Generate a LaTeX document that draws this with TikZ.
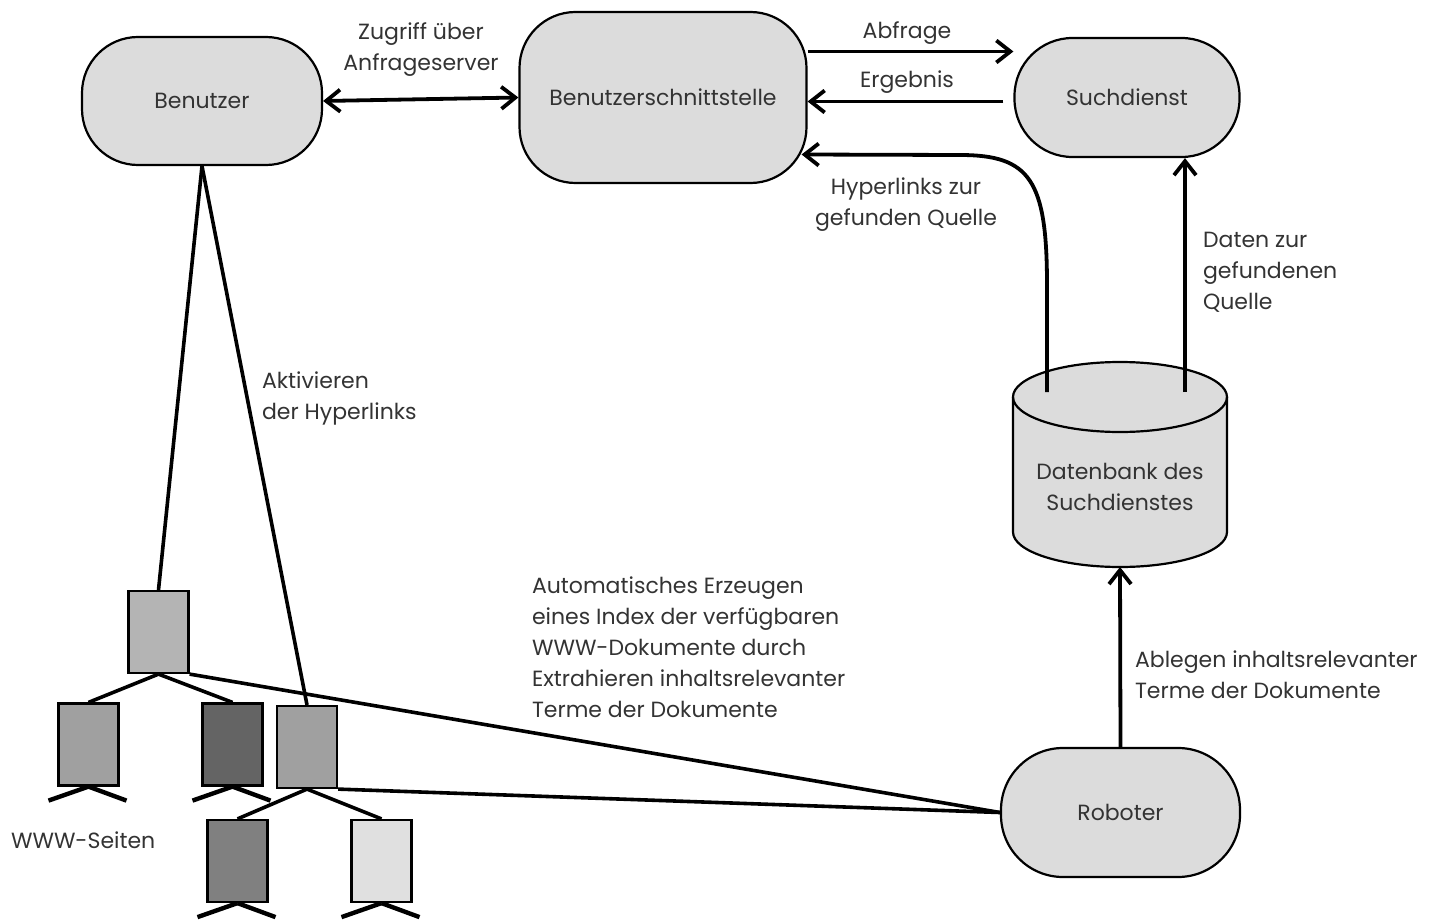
\documentclass[tikz,border=0pt]{standalone}
\usepackage{fontspec}
\setmainfont{Poppins}
\usetikzlibrary{arrows.meta,positioning,calc}

\definecolor{boxgray}{HTML}{DCDCDC}
\definecolor{pageA}{HTML}{B4B4B4}
\definecolor{pageB}{HTML}{A0A0A0}
\definecolor{pageC}{HTML}{646464}
\definecolor{pageD}{HTML}{808080}
\definecolor{pageE}{HTML}{E0E0E0}

\begin{document}
\begin{tikzpicture}[%
    x=0.5pt, y=-0.5pt,
    >={Straight Barb[length=7pt,width=11pt]},
    every node/.style={font=\fontsize{11}{15.5}\selectfont, text=black!80},
    blob/.style={draw, fill=boxgray, line width=1.1pt, rounded corners=28pt, align=center},
    page/.style={draw, line width=1.1pt, minimum width=30pt, minimum height=41pt, inner sep=0pt},
    flow/.style={->, line width=1.9pt},
    link/.style={line width=1.8pt},
    note/.style={align=left, anchor=west},
  ]
  \useasboundingbox (0,0) rectangle (1436,920);

  % --- main boxes ---
  \node[blob, minimum width=120pt, minimum height=64pt] (ben) at (202,101) {Benutzer};
  \node[blob, minimum width=143.5pt, minimum height=85.5pt] (bs) at (663,97.5) {Benutzerschnittstelle};
  \node[blob, minimum width=112.5pt, minimum height=59.5pt, rounded corners=29pt] (sd) at (1127,97.5) {Suchdienst};
  \node[blob, minimum width=119.5pt, minimum height=64.5pt, rounded corners=31pt] (rob) at (1120.5,812.5) {Roboter};

  % --- database cylinder ---
  \fill[boxgray] (1013,397) -- (1013,532) arc[start angle=180, end angle=0, x radius=107, y radius=35]
    -- (1227,397) -- cycle;
  \filldraw[fill=boxgray, draw=black, line width=1.1pt] (1120,397) ellipse[x radius=107, y radius=35];
  \draw[line width=1.1pt] (1013,397) -- (1013,532) arc[start angle=180, end angle=0, x radius=107, y radius=35]
    -- (1227,397);
  \node[align=center] (db) at (1120,487) {Datenbank des\\Suchdienstes};
  \coordinate (dbA) at (1047,392);
  \coordinate (dbB) at (1185,392);
  \coordinate (dbS) at (1120,567);

  % --- WWW pages ---
  \node[page, fill=pageA] (root) at (158.5,632) {};
  \node[page, fill=pageB] (c1) at (88.5,744.5) {};
  \node[page, fill=pageC] (c2) at (232.5,744.5) {};
  \node[page, fill=pageB] (c3) at (307,747) {};
  \node[page, fill=pageD] (gc1) at (237.5,861) {};
  \node[page, fill=pageE] (gc2) at (381.5,861) {};

  \draw[link] (root.south) -- (c1.north);
  \draw[link] (root.south) -- (c2.north);
  \draw[link] (c3.south) -- (gc1.north);
  \draw[link] (c3.south) -- (gc2.north);
  \foreach \p in {c1,c2,gc1,gc2} {
    \draw[link, line width=2.2pt] (\p.south) -- ++(-40,14);
    \draw[link, line width=2.2pt] (\p.south) -- ++(38,14);
  }

  % --- connectors ---
  \draw[flow, <->] (ben.east) -- (bs.west);
  \draw[flow] ([yshift=23pt]bs.east) -- ([yshift=23pt]sd.west);
  \draw[flow] ([xshift=-5pt,yshift=-2pt]sd.west) -- ([yshift=-2pt]bs.east);
  \draw[flow] (dbA) -- (1047,285) .. controls (1047,180) and (1030,155) .. (960,155)
    -- ([yshift=-28.5pt,xshift=-3pt]bs.east);
  \draw[flow] (dbB) -- (dbB |- sd.south);
  \draw[flow] (rob.north) -- (dbS);

  \draw[link] (ben.south) -- (root.north);
  \draw[link] (ben.south) -- (c3.north);
  \draw[link] (root.south east) -- (rob.west);
  \draw[link] (c3.south east) -- (rob.west);

  % --- labels ---
  \node[align=center] (lzug) at (421,50) {Zugriff über\\Anfrageserver};
  \node (labf) at (907,33) {Abfrage};
  \node (lerg) at (907,82) {Ergebnis};
  \node[align=center] (lhyp) at (906,205) {Hyperlinks zur\\gefunden Quelle};
  \node[note] (ldat) at (1196,272) {Daten zur\\gefundenen\\Quelle};
  \node[note] (lakt) at (255,398) {Aktivieren\\der Hyperlinks};
  \node[note] (lauto) at (525,647) {Automatisches Erzeugen\\eines Index der verfügbaren\\WWW-Dokumente durch\\Extrahieren inhaltsrelevanter\\Terme der Dokumente};
  \node[note] (lablg) at (1128,675) {Ablegen inhaltsrelevanter\\Terme der Dokumente};
  \node[note] (lwww) at (4,840) {WWW-Seiten};
\end{tikzpicture}
\end{document}
